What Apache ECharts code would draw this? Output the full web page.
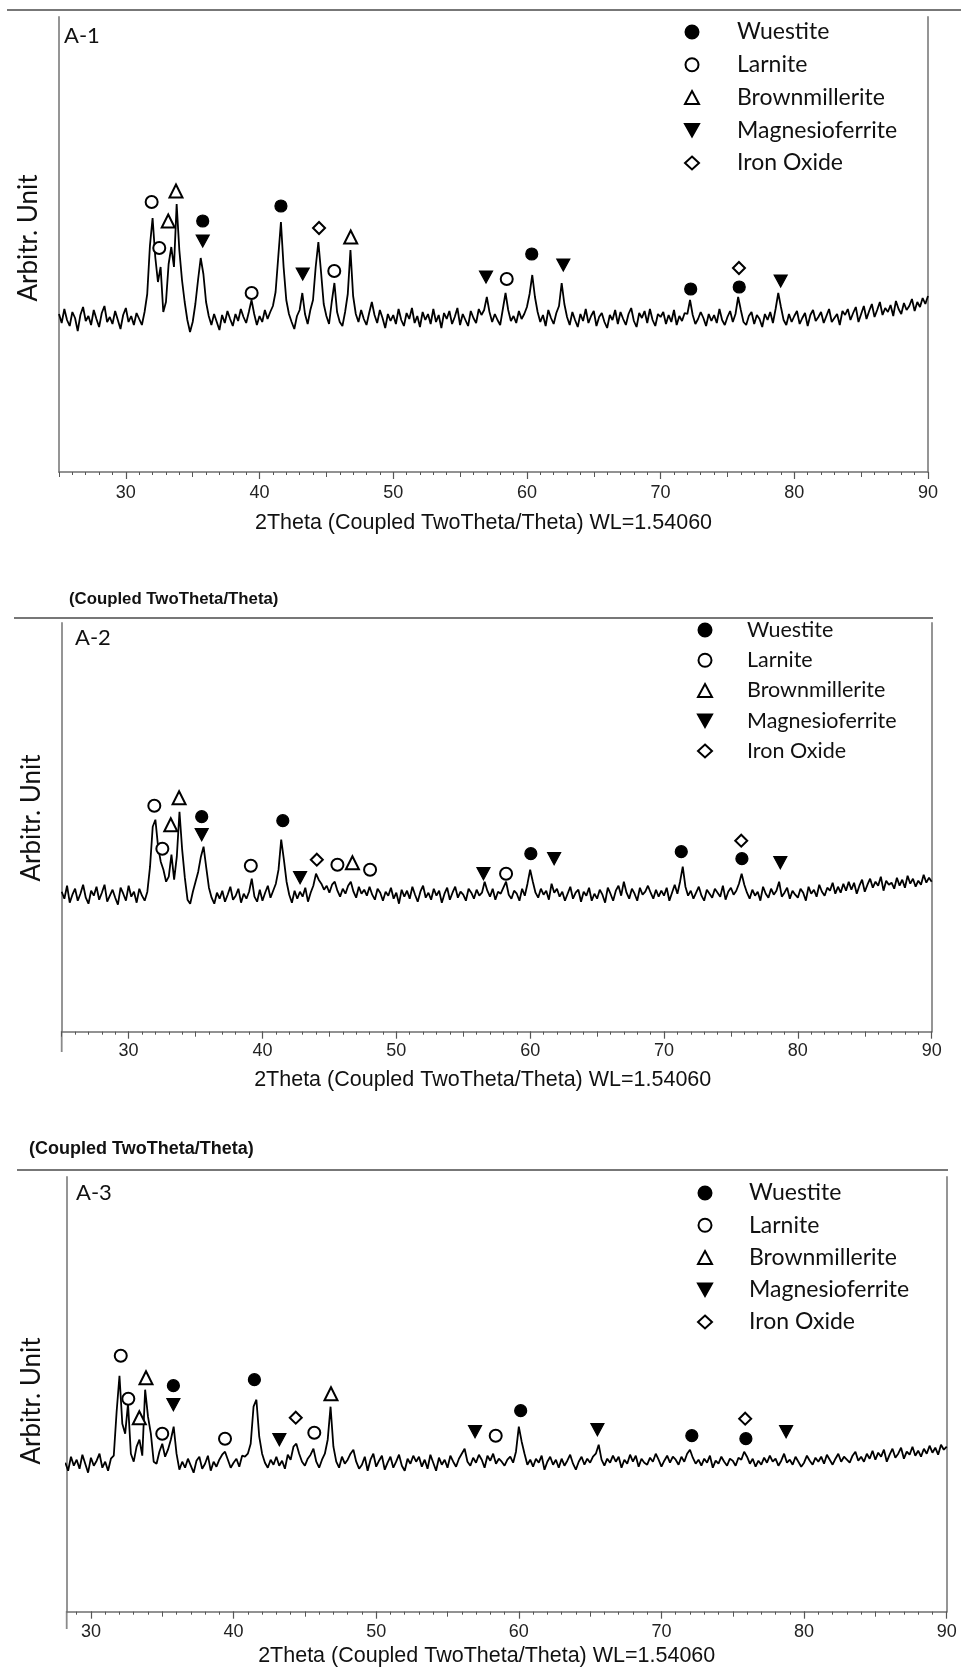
<!DOCTYPE html>
<html><head><meta charset="utf-8">
<script src="https://cdn.jsdelivr.net/npm/echarts@6/dist/echarts.min.js"></script>
<style>html,body{margin:0;padding:0;background:#fff}#c{width:961px;height:1669px}</style>
</head><body><div id="c"></div>
<script>
// ---------- DATA ----------
const angles = [
25,25.2,25.4,25.6,25.8, 26,26.2,26.4,26.6,26.8, 27,27.2,27.4,27.6,27.8, 28,28.2,28.4,28.6,28.8,
29,29.2,29.4,29.6,29.8, 30,30.2,30.4,30.6,30.8, 31,31.2,31.4,31.6,31.8, 32,32.2,32.4,32.6,32.8,
33,33.2,33.4,33.6,33.8, 34,34.2,34.4,34.6,34.8, 35,35.2,35.4,35.6,35.8, 36,36.2,36.4,36.6,36.8,
37,37.2,37.4,37.6,37.8, 38,38.2,38.4,38.6,38.8, 39,39.2,39.4,39.6,39.8, 40,40.2,40.4,40.6,40.8,
41,41.2,41.4,41.6,41.8, 42,42.2,42.4,42.6,42.8, 43,43.2,43.4,43.6,43.8, 44,44.2,44.4,44.6,44.8,
45,45.2,45.4,45.6,45.8, 46,46.2,46.4,46.6,46.8, 47,47.2,47.4,47.6,47.8, 48,48.2,48.4,48.6,48.8,
49,49.2,49.4,49.6,49.8, 50,50.2,50.4,50.6,50.8, 51,51.2,51.4,51.6,51.8, 52,52.2,52.4,52.6,52.8,
53,53.2,53.4,53.6,53.8, 54,54.2,54.4,54.6,54.8, 55,55.2,55.4,55.6,55.8, 56,56.2,56.4,56.6,56.8,
57,57.2,57.4,57.6,57.8, 58,58.2,58.4,58.6,58.8, 59,59.2,59.4,59.6,59.8, 60,60.2,60.4,60.6,60.8,
61,61.2,61.4,61.6,61.8, 62,62.2,62.4,62.6,62.8, 63,63.2,63.4,63.6,63.8, 64,64.2,64.4,64.6,64.8,
65,65.2,65.4,65.6,65.8, 66,66.2,66.4,66.6,66.8, 67,67.2,67.4,67.6,67.8, 68,68.2,68.4,68.6,68.8,
69,69.2,69.4,69.6,69.8, 70,70.2,70.4,70.6,70.8, 71,71.2,71.4,71.6,71.8, 72,72.2,72.4,72.6,72.8,
73,73.2,73.4,73.6,73.8, 74,74.2,74.4,74.6,74.8, 75,75.2,75.4,75.6,75.8, 76,76.2,76.4,76.6,76.8,
77,77.2,77.4,77.6,77.8, 78,78.2,78.4,78.6,78.8, 79,79.2,79.4,79.6,79.8, 80,80.2,80.4,80.6,80.8,
81,81.2,81.4,81.6,81.8, 82,82.2,82.4,82.6,82.8, 83,83.2,83.4,83.6,83.8, 84,84.2,84.4,84.6,84.8,
85,85.2,85.4,85.6,85.8, 86,86.2,86.4,86.6,86.8, 87,87.2,87.4,87.6,87.8, 88,88.2,88.4,88.6,88.8,
89,89.2,89.4,89.6,89.8, 90
];

// A-1 intensity (arbitrary units), one value per angle
const intensityA1 = [
158,149,163,152,146, 160,154,141,157,165, 151,156,147,162,153, 145,159,166,150,155,
148,161,152,143,157, 164,150,156,147,159, 153,147,160,178,226, 254,215,190,205,160,
170,208,225,205,268, 222,192,170,152,140, 150,168,192,214,198, 170,156,147,158,150,
142,157,149,161,153, 146,158,151,163,155, 149,160,172,158,147, 156,150,162,153,160,
166,180,215,250,205, 172,158,150,143,156, 162,179,158,148,162, 172,205,230,200,168,
156,148,170,189,160, 150,146,160,178,222, 176,158,150,162,153, 147,159,170,157,149,
162,154,144,158,151, 157,148,163,152,146, 159,153,164,149,156, 145,160,152,158,148,
163,150,157,144,159, 153,161,148,155,164, 147,158,152,146,161, 154,149,163,157,162,
175,160,150,158,152, 147,163,179,162,151, 156,149,161,153,158, 165,178,197,175,160,
150,157,146,162,154, 148,159,166,189,168, 155,147,160,152,145, 158,151,163,149,156,
161,146,155,159,150, 144,157,152,162,148, 160,153,147,158,164, 151,145,159,154,161,
149,163,152,146,158, 155,160,148,157,150, 162,147,156,151,159, 158,172,157,148,153,
160,154,146,158,151, 157,149,163,152,147, 155,161,150,158,175, 162,150,147,156,160,
148,157,153,145,158, 152,160,149,163,179, 165,152,147,158,150, 156,161,148,154,159,
146,157,162,151,155, 160,149,156,163,150, 154,158,147,161,157, 163,152,159,165,150,
158,166,153,161,168, 155,162,170,157,164, 160,167,156,171,163, 158,169,162,166,173,
161,170,165,174,168, 176
];

// A-2 intensity, one value per angle
const intensityA2 = [
140,133,146,129,137, 143,131,138,147,134, 128,141,136,145,132, 139,147,130,136,142,
134,127,144,138,131, 146,135,140,129,143, 136,131,140,165,205, 212,185,170,162,150,
155,177,152,175,220, 182,154,132,128,140, 150,160,175,185,164, 144,134,128,139,133,
141,130,137,145,132, 136,143,129,138,133, 140,153,135,130,142, 131,139,146,134,141,
148,162,192,172,150, 137,129,141,133,140, 135,144,130,139,146, 158,152,148,142,146,
139,147,150,141,135, 143,138,146,150,140, 134,145,138,142,136, 145,137,132,143,139,
131,140,136,144,133, 139,128,142,135,141, 133,145,137,130,140, 146,134,139,132,143,
136,141,129,138,144, 132,139,145,134,140, 137,131,143,139,133, 142,136,139,150,141,
135,143,132,140,138, 144,150,137,133,141, 138,131,143,136,148, 162,150,139,134,143,
137,141,132,148,139, 143,135,140,131,138, 145,133,139,142,130, 140,136,144,131,138,
133,142,137,129,144, 138,131,141,146,136, 150,139,133,143,138, 131,144,137,140,146,
139,133,142,135,141, 136,144,131,139,147, 138,150,165,145,136, 141,133,139,145,136,
131,142,138,134,143, 139,135,146,132,140, 144,137,141,148,158, 147,139,133,142,136,
140,131,145,138,134, 143,137,141,150,135, 139,144,133,141,137, 134,143,139,131,145,
138,142,135,147,140, 136,144,141,149,138, 145,139,148,141,150, 142,149,138,146,152,
140,147,153,144,150, 146,155,141,151,147, 149,143,154,146,152, 144,156,148,153,145,
151,147,157,149,154, 150
];

// A-3 intensity, one value per angle starting at 28.2
const intensityA3 = [
149,141,155,146,
152,143,157,148,139, 154,146,151,158,144, 150,141,153,156,200, 236,188,178,208,158,
150,165,172,156,222, 195,178,150,148,160, 168,155,162,172,185, 158,142,150,144,153,
146,139,151,155,143, 148,156,141,150,145, 152,157,160,152,144, 149,153,145,156,155,
158,168,205,212,175, 158,149,144,152,147, 155,146,151,143,157, 152,165,168,158,150,
146,153,157,163,150, 144,152,158,172,205, 165,150,144,155,148, 152,158,162,150,143,
147,155,141,152,158, 145,151,156,142,149, 155,144,150,157,146, 141,153,148,156,150,
155,145,152,143,157, 149,141,154,147,152, 144,156,150,145,153, 158,163,150,146,154,
149,157,152,144,156, 151,158,148,153,150, 146,152,155,149,160, 185,170,158,147,152,
145,153,149,156,142, 150,155,147,152,144, 153,146,151,157,148, 142,150,155,147,153,
149,155,158,167,152, 146,153,149,156,150, 155,144,152,148,157, 150,156,145,153,149,
147,154,150,158,152, 145,151,156,149,155, 152,147,155,150,158, 162,154,148,152,146,
153,149,156,144,151, 148,155,150,146,153, 151,146,154,152,160, 155,148,153,145,151,
147,154,149,156,150, 153,146,151,158,149, 152,147,155,150,145, 149,156,151,147,154,
150,155,148,157,152, 147,153,158,150,155, 152,149,156,160,151, 155,150,158,153,161,
152,159,155,162,150, 157,163,154,158,164, 153,160,157,165,156, 161,155,163,158,166,
159,164,157,167,162, 165
];
const a3StartIndex = 16; // angles[16] = 28.2

// Phase names (legend)
const phaseNames = ['Wuestite', 'Larnite', 'Brownmillerite', 'Magnesioferrite', 'Iron Oxide'];

// Peak markers [2theta, height]
const a1Wuestite = [[35.75,251],[41.6,266],[60.36,218],[72.25,183],[75.88,185]];
const a1Larnite = [[31.93,270],[32.5,224],[39.41,179],[45.59,201],[58.49,193]];
const a1Brownmillerite = [[33.17,251],[33.75,281],[46.82,235]];
const a1Magnesioferrite = [[35.75,231],[43.23,198],[56.94,195],[62.72,207],[78.98,191]];
const a1IronOxide = [[44.45,244],[75.86,204]];

const a2Wuestite = [[35.46,215],[41.52,211],[60.05,178],[71.29,180],[75.82,173]];
const a2Larnite = [[31.92,226],[32.52,183],[39.13,166],[45.6,167],[48.04,162],[58.2,158]];
const a2Brownmillerite = [[33.15,207],[33.77,234],[46.72,169]];
const a2Magnesioferrite = [[35.46,197],[42.81,154],[56.51,158],[61.79,173],[78.69,169]];
const a2IronOxide = [[44.06,172],[75.77,191]];

const a3Wuestite = [[35.78,226],[41.46,232],[60.13,201],[72.13,176],[75.92,173]];
const a3Larnite = [[32.09,256],[32.62,213],[35.0,178],[39.4,173],[45.66,179],[58.38,176]];
const a3Brownmillerite = [[33.39,194],[33.86,234],[46.83,218]];
const a3Magnesioferrite = [[35.78,207],[43.21,172],[56.93,180],[65.51,182],[78.74,180]];
const a3IronOxide = [[44.36,194],[75.87,193]];

// Tick labels
const tickLabels = [30, 40, 50, 60, 70, 80, 90];
const panelLabels = ['A-1', 'A-2', 'A-3'];
const xTitle = '2Theta (Coupled TwoTheta/Theta) WL=1.54060';
const yTitle = 'Arbitr. Unit';
const scanTag = '(Coupled TwoTheta/Theta)';

// ---------- LAYOUT / STYLE ----------
const SANS = "'Liberation Sans', Arial, sans-serif";
const CAL = "Lato, 'Open Sans', sans-serif";
const INV_TRI = 'path://M0,0L20,0L10,18Z';
const phaseSymbols = ['circle', 'emptyCircle', 'emptyTriangle', INV_TRI, 'emptyDiamond'];
const phaseSize = [12, 12, 13, [13, 12], 12];

const panels = [
  { left: 59, top: 17, width: 869, height: 455, xmin: 25,
    line: angles.map((a, i) => [a, intensityA1[i]]),
    markers: [a1Wuestite, a1Larnite, a1Brownmillerite, a1Magnesioferrite, a1IronOxide],
    labelMargin: 12, nameGap: 40, namePad: [0, 20, 0, 0],
    legend: { left: 684, top: 20, gap: 8.75, font: 23, lh: 24, pad: 33 },
    label: { left: 64, top: 25 }, ylab: { x: 29, y: 238 }, tag: null },
  { left: 61.7, top: 623, width: 870, height: 408.7, xmin: 25,
    line: angles.map((a, i) => [a, intensityA2[i]]),
    markers: [a2Wuestite, a2Larnite, a2Brownmillerite, a2Magnesioferrite, a2IronOxide],
    labelMargin: 10, nameGap: 37, namePad: [0, 28, 0, 0],
    legend: { left: 697, top: 619, gap: 8.25, font: 21.5, lh: 22, pad: 30 },
    label: { left: 75, top: 627 }, ylab: { x: 32, y: 818 },
    tag: { left: 69, top: 591, size: 16.8 } },
  { left: 66.7, top: 1177, width: 880, height: 434.7, xmin: 28.3,
    line: intensityA3.map((v, i) => [angles[i + a3StartIndex], v]),
    markers: [a3Wuestite, a3Larnite, a3Brownmillerite, a3Magnesioferrite, a3IronOxide],
    labelMargin: 11, nameGap: 33, namePad: [0, 40, 0, 0],
    legend: { left: 697, top: 1181, gap: 8.25, font: 23, lh: 24, pad: 32 },
    label: { left: 76, top: 1182 }, ylab: { x: 32, y: 1401 },
    tag: { left: 29, top: 1140, size: 18 } }
];

const grids = [], xAxes = [], yAxes = [], series = [], legends = [], titles = [], graphics = [];

panels.forEach((p, k) => {
  const rect = { left: p.left, top: p.top, width: p.width, height: p.height, containLabel: false, outerBoundsMode: 'none' };
  grids.push(Object.assign({}, rect), Object.assign({}, rect), Object.assign({}, rect));
  const g0 = 3 * k;
  const minor = [], mid = [];
  for (let v = Math.ceil(p.xmin); v <= 90; v++) { minor.push(v); if (v % 5 === 0) mid.push(v); }
  xAxes.push({
    gridIndex: g0, type: 'value', min: p.xmin, max: 90, position: 'bottom',
    axisLine: { show: true, onZero: false, lineStyle: { color: '#6f6f6f', width: 1.5 } },
    axisTick: { show: true, customValues: tickLabels, length: 7, lineStyle: { color: '#555', width: 1.2 } },
    axisLabel: { show: true, customValues: tickLabels, margin: p.labelMargin, fontSize: 18, fontFamily: SANS, color: '#222' },
    splitLine: { show: false },
    name: xTitle, nameLocation: 'middle', nameGap: p.nameGap,
    nameTextStyle: { fontSize: 21.5, fontFamily: SANS, color: '#111', padding: p.namePad }
  });
  xAxes.push({
    gridIndex: g0 + 1, type: 'value', min: p.xmin, max: 90, position: 'bottom',
    axisLine: { show: false }, axisLabel: { show: false }, splitLine: { show: false },
    axisTick: { show: true, customValues: minor, length: 3, lineStyle: { color: '#555', width: 1 } }
  });
  xAxes.push({
    gridIndex: g0 + 2, type: 'value', min: p.xmin, max: 90, position: 'bottom',
    axisLine: { show: false }, axisLabel: { show: false }, splitLine: { show: false },
    axisTick: { show: true, customValues: mid, length: 5, lineStyle: { color: '#555', width: 1 } }
  });
  const yBase = { type: 'value', min: 0, max: p.height, axisTick: { show: false }, axisLabel: { show: false }, splitLine: { show: false } };
  yAxes.push(Object.assign({}, yBase, { gridIndex: g0, position: 'left', axisLine: { show: true, onZero: false, lineStyle: { color: '#8a8a8a', width: 1.8 } } }));
  yAxes.push(Object.assign({}, yBase, { gridIndex: g0, position: 'right', axisLine: { show: true, onZero: false, lineStyle: { color: '#8a8a8a', width: 1.8 } } }));
  yAxes.push(Object.assign({}, yBase, { gridIndex: g0 + 1, show: false }));
  yAxes.push(Object.assign({}, yBase, { gridIndex: g0 + 2, show: false }));
  const xi = 3 * k, yi = 4 * k;
  series.push({
    type: 'line', name: 'pattern' + k, xAxisIndex: xi, yAxisIndex: yi, data: p.line,
    showSymbol: false, symbol: 'none', lineStyle: { color: '#000', width: 1.8 }, clip: true, z: 2, silent: true
  });
  phaseNames.forEach((nm, j) => {
    series.push({
      type: 'scatter', name: nm, xAxisIndex: xi, yAxisIndex: yi, data: p.markers[j],
      symbol: phaseSymbols[j], symbolSize: phaseSize[j],
      itemStyle: { color: '#000', borderColor: '#000', borderWidth: 1.2, opacity: 1 }, z: 5, silent: true
    });
  });
  legends.push({
    orient: 'vertical', left: p.legend.left, top: p.legend.top, itemGap: p.legend.gap,
    itemWidth: 14, itemHeight: 13, selectedMode: false, data: phaseNames, padding: 0,
    textStyle: { fontFamily: CAL, fontSize: p.legend.font, lineHeight: p.legend.lh, color: '#111', padding: [0, 0, 0, p.legend.pad] }
  });
  titles.push({ text: panelLabels[k], left: p.label.left, top: p.label.top, padding: 0,
    textStyle: { fontFamily: CAL, fontSize: 22, fontWeight: 'normal', color: '#111' } });
  if (p.tag) titles.push({ text: scanTag, left: p.tag.left, top: p.tag.top, padding: 0,
    textStyle: { fontFamily: SANS, fontSize: p.tag.size, fontWeight: 'bold', color: '#111' } });
  graphics.push({ type: 'text', x: p.ylab.x, y: p.ylab.y, rotation: Math.PI / 2,
    style: { text: yTitle, fontFamily: CAL, fontSize: 26, fill: '#111', align: 'center', verticalAlign: 'middle' } });
});

const frame = { stroke: '#777', lineWidth: 2 };
graphics.push({ type: 'line', shape: { x1: 7, y1: 10, x2: 961, y2: 10 }, style: frame });
graphics.push({ type: 'line', shape: { x1: 14, y1: 618, x2: 933, y2: 618 }, style: frame });
graphics.push({ type: 'line', shape: { x1: 17, y1: 1170, x2: 948, y2: 1170 }, style: frame });
graphics.push({ type: 'line', shape: { x1: 61.7, y1: 1031, x2: 61.7, y2: 1052 }, style: { stroke: '#8a8a8a', lineWidth: 1.8 } });
graphics.push({ type: 'line', shape: { x1: 66.7, y1: 1611, x2: 66.7, y2: 1629 }, style: { stroke: '#8a8a8a', lineWidth: 1.8 } });

const chart = echarts.init(document.getElementById('c'), null, { renderer: 'canvas' });
chart.setOption({
  backgroundColor: '#fff', animation: false,
  grid: grids, xAxis: xAxes, yAxis: yAxes, series: series,
  legend: legends, title: titles, graphic: graphics, tooltip: { show: false }
});
</script></body></html>
